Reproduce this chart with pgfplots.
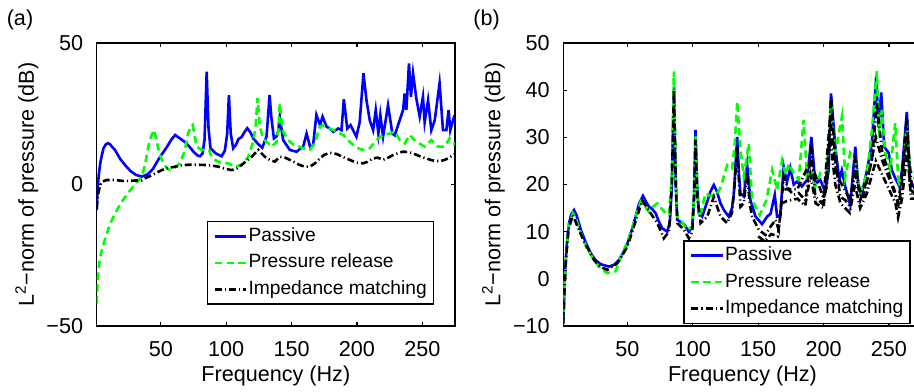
\documentclass[border=0pt]{standalone}
\usepackage{fontspec}
\setmainfont{Liberation Sans}
\usepackage{pgfplots}
\pgfplotsset{compat=1.18}
\definecolor{pgreen}{RGB}{0,255,0}
\pgfplotsset{
  common/.style={
    scale only axis, width=179.15pt, height=141.5pt,
    xmin=1, xmax=275,
    xtick={50,100,150,200,250}, xticklabels={50,100,150,200,250},
    tick align=inside, major tick length=2pt,
    tick style={black, line width=0.6pt},
    axis line style={black, line width=0.8pt},
    xticklabel style={yshift=-4.3pt},
    yticklabel style={xshift=-3.3pt},
    xlabel={Frequency (Hz)},
    ylabel={L\textsuperscript{2}−norm of pressure (dB)},
    xlabel style={at={(axis description cs:0.5,-0.177)}, anchor=center},
    ylabel style={at={(axis description cs:-0.195,0.5)}, anchor=center},
    legend cell align=left,
    legend image code/.code={\draw[##1] (0pt,0pt) -- (15.8pt,0pt);},
    legend style={draw=black, line width=0.8pt, inner xsep=3pt, inner ysep=0.7pt,
      font=\fontsize{9.6}{11.5}\selectfont,
      nodes={text height=7.5pt, text depth=2.5pt, inner xsep=0.4pt, inner ysep=1.65pt, line width=0.4pt}},
    /pgf/number format/assume math mode=true,
  },
  pas/.style={blue, line width=1.3pt},
  prs/.style={pgreen, line width=1.3pt, dash pattern=on 3.7pt off 2.2pt},
  imp/.style={black, line width=1.3pt, dash pattern=on 3.5pt off 1.5pt on 0.6pt off 1.5pt},
}
\begin{document}
\begin{tikzpicture}[font=\fontsize{10.8}{13}\selectfont]
\begin{axis}[common, at={(48.35pt,-163pt)}, anchor=south west,
  ymin=-50, ymax=50, ytick={-50,0,50}, yticklabels={−50,0,50},
  legend style={at={(axis description cs:0.307,0.372)}, anchor=north west}]
\addplot[pas] coordinates {(1,-9)(1.5,-3)(2.5,3)(3.7,7.5)(5,10.5)(6.2,12.8)(8,14.2)(9.5,14.6)(11,14.3)(13,13.2)(15,12.2)(19,9)(23,6.7)(27,4.7)(31,3.4)(35.5,2.8)(40,3.6)(44,5.5)(48,8.7)(51,10.8)(55,13.5)(58,15.8)(61,17.5)(64,16.5)(68.5,15)(72,13.3)(75,11.6)(78,10.3)(80,10)(82,11)(83.5,16)(85.1,39.9)(86.5,20)(88,12.8)(92,11)(96.6,10)(99,12)(100.8,18)(102.1,31.6)(103.5,18)(105.4,12.8)(107.5,14)(109.3,16)(111.8,16.8)(114,18.5)(116.1,19.9)(118.5,18.5)(120.7,16.3)(124,14.5)(127.6,13)(130.9,17)(132,24)(133.2,31.6)(134.5,24)(136.5,16.3)(138.5,17)(139.8,18.7)(141,24)(142.5,19)(143.6,15.7)(148.7,12.2)(153.8,11.6)(158.9,13.4)(161.5,18)(164.5,12.8)(166.5,14)(169,24.6)(171.8,21)(173.7,24)(176.8,20.4)(179.3,19.8)(181.9,18.6)(185.7,19.8)(188.2,19.2)(190,30.1)(192.6,19.8)(195.1,21)(199.6,16.9)(202.1,22)(205,39.3)(207.3,29.8)(209.8,22.7)(212.4,19.2)(214.4,26.3)(216.4,18)(217.9,24.6)(220,16.9)(223.8,28)(227.1,18)(228.9,17.4)(232.7,22.7)(235.3,26.3)(236.5,32.2)(237.8,26.3)(239.8,42.8)(241.3,31)(242.9,39.3)(245.4,30.5)(248,24)(250.5,31)(251.8,22)(254.4,29.8)(256.9,19.2)(259.5,22.7)(263.2,35.8)(265.8,19.2)(268.4,19.2)(270.1,26.3)(271.4,19.2)(273.9,23.3)(275,22)};
\addlegendentry{Passive}
\addplot[prs] coordinates {(1,-42)(1.5,-36)(2.4,-30.2)(3.5,-26)(5,-23.1)(7,-19.8)(8.8,-17.2)(11,-14.2)(13.8,-11.4)(17,-8.6)(20.2,-6.1)(24,-3.6)(27.9,-1.3)(32,1)(35.5,2.8)(38,7)(40.5,13.4)(43,17.5)(44.9,19.3)(47,15)(49,11)(50.8,8.7)(54.6,5.7)(57,5.2)(60,5.6)(63.5,7)(66,9)(68.2,11.8)(70.7,17.6)(72.5,20)(74.4,21)(76,17)(77.5,13.4)(81.3,12.2)(84,12.3)(87,12.2)(88.9,9.8)(91.5,8.7)(95,7.8)(97.8,7.5)(101.6,7.5)(106.7,6.3)(111.8,6.9)(116.9,9.8)(118.8,12.5)(120.7,15.1)(122.5,20.4)(124,30.5)(125.8,20.4)(128.3,16.3)(130.9,15.1)(134.7,13.4)(138.5,15)(140,20)(141,28.7)(142.5,22)(143.6,18.7)(147.4,15.7)(151.2,14.2)(158.9,12.8)(164,12.4)(167.8,14.5)(171.6,20.4)(174.2,21)(179.3,19.8)(184.4,18.7)(189.5,17.5)(195.8,14.5)(200,13)(204.7,12.2)(209.8,12.8)(214.9,15.7)(220,17.5)(225.1,18)(229,18.7)(232.8,15.7)(236.6,14.5)(240.3,17.5)(245.4,15.1)(251.8,13.4)(256.9,15.7)(262,13.4)(267.1,13.4)(270.9,16.3)(275,14)};
\addlegendentry{Pressure release}
\addplot[imp] coordinates {(1,-8.4)(2,-3.5)(3.7,-0.2)(5,1)(8.8,1.6)(15,1.6)(22,1.2)(30.3,1.4)(35.5,1.5)(38,2.2)(44,3.5)(50.8,5.1)(55,5.8)(61,6.3)(66,6.8)(71.2,7)(78,7)(83.9,6.9)(89,6.7)(94.1,6.3)(99,5.6)(104.2,5.1)(108,5.6)(111.8,6.9)(116,8.5)(119.5,9.8)(124.5,12.2)(129.6,9.8)(134,8.5)(137.3,8.1)(141,9.8)(145,9.5)(148.7,8.7)(156.3,6.9)(160,6.3)(164,6.3)(168,7.5)(171.6,9.2)(175,10.5)(179.3,11.2)(184.4,10.8)(189,9.8)(194.5,8.7)(199,7.8)(204.7,7.5)(208,8)(212.4,9.2)(216,9.5)(220,8.7)(224,9.5)(227.6,10.4)(231,11)(235.2,11.6)(239,11.5)(242.9,11)(248,10)(253.1,9.2)(257,8.6)(260.7,8.3)(264,8.3)(267.1,8.7)(270,9.3)(273.5,10.4)(275,10.8)};
\addlegendentry{Impedance matching\hspace{6.7pt}}
\end{axis}
\begin{axis}[common, at={(281.65pt,-163pt)}, anchor=south west,
  ymin=-10, ymax=50, ytick={-10,0,10,20,30,40,50}, yticklabels={−10,0,10,20,30,40,50},
  legend style={at={(axis description cs:0.335,0.304)}, anchor=north west}]
\addplot[pas] coordinates {(1,-9.4)(2,-1)(2.9,4)(4,8.5)(5.4,11.8)(7,13.6)(9.2,14.6)(11,13.6)(14.4,10.4)(18,7.8)(22,5.4)(25.5,4)(29.6,3.1)(36,2.6)(40,3)(43.6,4)(47,5.6)(50,7.5)(53,10)(56.3,13.2)(59,16)(61.9,17.6)(64,16.5)(66.5,15.3)(69,14.8)(71.6,13.9)(74,12.2)(76.7,10.7)(80.5,10)(82.5,12)(84,20)(85.6,40.7)(87,20)(88.2,12.5)(93.3,11.6)(97,10)(99.6,11)(101,18)(102.1,31.6)(103.3,20)(104.7,13.9)(107.2,13.2)(111.1,16.4)(113.5,18.5)(116.1,19.9)(118.5,18.5)(121.2,16)(124,14.5)(127.6,13.2)(130,15)(131.4,18)(134,30.1)(135.3,22)(136.5,18.1)(139,17.5)(141.6,24.1)(144.1,16.7)(148,13.2)(153,11.6)(156.9,13.2)(159.5,13.8)(162.7,17.8)(164.5,13.2)(167,13.5)(169.5,23.8)(172,20.5)(174.6,23.5)(177.2,20)(179.7,20.6)(183.5,19.6)(187.4,21)(190.7,30.1)(193.7,20.3)(197.5,21)(201.3,18.4)(203.9,23)(205.7,39.3)(209,28)(212,21)(214,23)(216.6,19.6)(220.4,15.7)(224.3,28)(226.8,19)(229.4,18.2)(233.2,23)(237,28.7)(240.3,43)(242,32.2)(244.1,39.5)(246.4,28)(249.8,26.7)(252.3,23)(254.9,21.3)(258,19.6)(260,23)(263.7,35.4)(266.2,21)(269.3,19.3)(272,20)(275,21)};
\addlegendentry{Passive}
\addplot[prs] coordinates {(1,-9.5)(2,-1.5)(3,4)(5,11)(8.3,13.9)(11,12.5)(14.4,9.7)(19,6.5)(24.5,4)(29,2.3)(34.7,1.2)(41,1.6)(44.9,4.7)(50,7.8)(55,12)(60.2,16.4)(63,15.5)(66.5,14.2)(69.5,15.3)(72.9,16)(78,14.3)(81.8,13.5)(84,22)(85.6,44)(87,22)(88.2,13.2)(92,12)(95.8,10.4)(99.6,11)(101,18)(102.1,30.2)(103.3,20)(104.7,13.2)(107,15)(109.8,18.1)(113.6,17.5)(118.7,18.1)(121.5,19.5)(123.7,21.7)(126.3,24.1)(130.1,23.4)(132,28)(134,37.6)(136.5,27.3)(139,21.7)(142.8,28.7)(145.4,16.7)(151.2,13.5)(156.3,16.7)(160.7,23.1)(164.5,18.9)(168.3,25.1)(170.9,22)(173.4,24.4)(177.2,22.4)(181,21)(184.8,33.7)(187.4,21.7)(191.2,23.1)(193.7,19.6)(197.5,22.4)(202.6,22.4)(205.7,37.2)(209,26.7)(214.1,34.4)(216.6,21.7)(220.4,26.7)(224.3,25.3)(228.1,18.2)(233.2,22.4)(237,31.6)(240.8,44)(242.6,30)(244.6,35.8)(247.2,26.7)(251,23.1)(254.8,33)(257.4,19.6)(261.2,23.1)(263.7,33)(266.2,23.1)(269.3,21.7)(272,19)(275,20)};
\addlegendentry{Pressure release}
\addplot[imp] coordinates {(1,-9.5)(2,-1.5)(3,4)(5,10.5)(8.3,13.5)(12,11)(16.9,7.9)(24.5,4)(29,2.6)(34.7,1.9)(42.3,3.3)(50,6.8)(56,12)(61.4,16.6)(64,15.5)(67.8,13.9)(72.9,11.8)(77.9,8.6)(81.8,10)(84,20)(85.6,40)(87,20)(88.2,11.8)(93.3,10.4)(97,8.6)(99.6,10)(101,17)(102.1,29.5)(103.5,17)(106,11.8)(111.1,13.2)(116.1,17.4)(121.2,13.2)(126.3,11.8)(130,14)(132,20)(134,28)(135.5,20)(136.5,15.3)(139,16)(141.6,22.4)(143.5,16)(145.4,13.2)(150.5,10.4)(155.6,9.3)(158.1,10.5)(163.2,12.5)(165.8,10.4)(169.6,21.7)(173.4,18.9)(177.2,17.8)(181,18.2)(186.2,16.7)(190.7,27.3)(193.7,17.4)(198.8,16)(202.6,19.6)(205.7,38.6)(209,25.3)(212.8,17.4)(216.6,16.7)(220.4,15.3)(224.3,25.3)(228.1,16.7)(233.2,21)(237,25.3)(240.8,37.2)(244.6,27.3)(249.8,22.4)(254.9,18.2)(257.4,15.3)(260,20.3)(263.7,34.4)(266.2,18.9)(269.3,18.2)(272,18)(275,19)};
\addlegendentry{Impedance matching\hspace{6.7pt}}
\addplot[imp, forget plot] coordinates {(150,9)(155,8)(160,9.5)(165,9)(168,16)(172,16.5)(180,17)(186,15.5)(190,22)(194,16)(200,15)(205,30)(209,20)(213,16)(220,14)(224,20)(228,15)(233,18)(240,25)(245,22)(250,19)(255,16)(257,13)(260,17)(264,27)(267,17)(275,17)};
\addplot[imp, forget plot] coordinates {(170,19)(180,19)(190,25)(200,17)(205,34)(210,22)(220,17)(224,22)(230,17)(236,24)(240,30)(245,25)(252,20)(257,16)(264,30)(268,18)(275,18)};
\end{axis}
\node at (10pt,-10pt) {(a)};
\node at (243.25pt,-10pt) {(b)};
\pgfresetboundingbox
\useasboundingbox (0pt,0pt) rectangle (457pt,-195.5pt);
\end{tikzpicture}
\end{document}
